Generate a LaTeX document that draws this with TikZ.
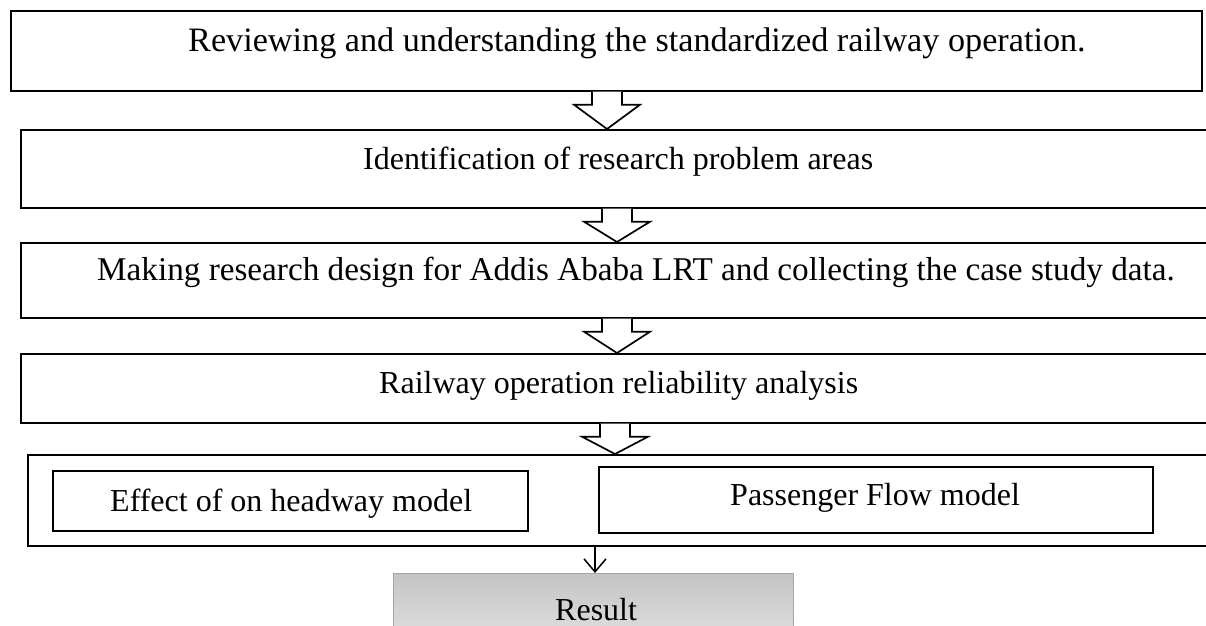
\documentclass[tikz,border=0pt]{standalone}
\usepackage{fontspec}
\setmainfont{Liberation Serif}
\usetikzlibrary{arrows.meta, positioning, calc}

\begin{document}
\begin{tikzpicture}[x=1pt, y=-1pt,
        frame/.style={draw, line width=1.7pt, anchor=north west, inner sep=0pt},
        resbox/.style={draw=gray!70, line width=0.8pt, anchor=north west, inner sep=0pt,
            top color={rgb,255:red,196;green,196;blue,196}, bottom color={rgb,255:red,222;green,222;blue,222}},
        txt/.style={font=\fontsize{32}{38}\selectfont, inner sep=0pt, anchor=base west},
        hollow/.style={draw, line width=1.7pt, fill=white, line join=miter},
        arr/.style={-{Straight Barb[length=13pt, width=22pt]}, line width=1.5pt}]
        \clip (0,0) rectangle (1206,625);
        % outer boxes
        \node[frame, minimum width=1191pt, minimum height=80pt] (f1) at (10,10) {};
        \node[frame, minimum width=1230pt, minimum height=78pt] (f2) at (20,129) {};
        \node[frame, minimum width=1230pt, minimum height=75pt] (f3) at (20,242) {};
        \node[frame, minimum width=1230pt, minimum height=69pt] (f4) at (20,353) {};
        \node[frame, minimum width=1230pt, minimum height=91pt] (f5) at (27,454) {};
        % the two models
        \node[frame, minimum width=475pt, minimum height=60pt] (hw) at (52,470) {};
        \node[frame, minimum width=554pt, minimum height=66pt] (pf) at (598,466) {};
        \node[resbox, minimum width=400pt, minimum height=62pt] (res) at (393,573) {};
        % texts
        \node[txt, font=\fontsize{34.2}{40}\selectfont] (t1) at (188,51) {Reviewing and understanding the standardized railway operation.};
        \node[txt] (t2) at (363,169) {Identification of research problem areas};
        \node[txt, font=\fontsize{33.2}{40}\selectfont] (t3) at (97,280) {Making research design for Addis Ababa LRT and collecting the case study data.};
        \node[txt] (t4) at (379,393) {Railway operation reliability analysis};
        \node[txt] (t5) at (110,511) {Effect of on headway model};
        \node[txt] (t6) at (730,505) {Passenger Flow model};
        \node[txt] (t7) at (555,620) {Result};
        % block arrows between the steps
        \foreach \up/\dn/\ax in {f1/f2/607, f2/f3/617, f3/f4/617, f4/f5/615} {
            \coordinate (ax) at (\ax,0);
            \draw[hollow] ($(\up.south -| ax)+(-15,0)$) -- ++(0,13) -- ++(-18,0)
                -- (\dn.north -| ax) -- ($(\up.south -| ax)+(33,13)$) -- ++(-18,0) -- ++(0,-13);
        }
        \coordinate (rx) at (595,0);
        \draw[arr] (f5.south -| rx) -- (res.north -| rx);
    \end{tikzpicture}
\end{document}
